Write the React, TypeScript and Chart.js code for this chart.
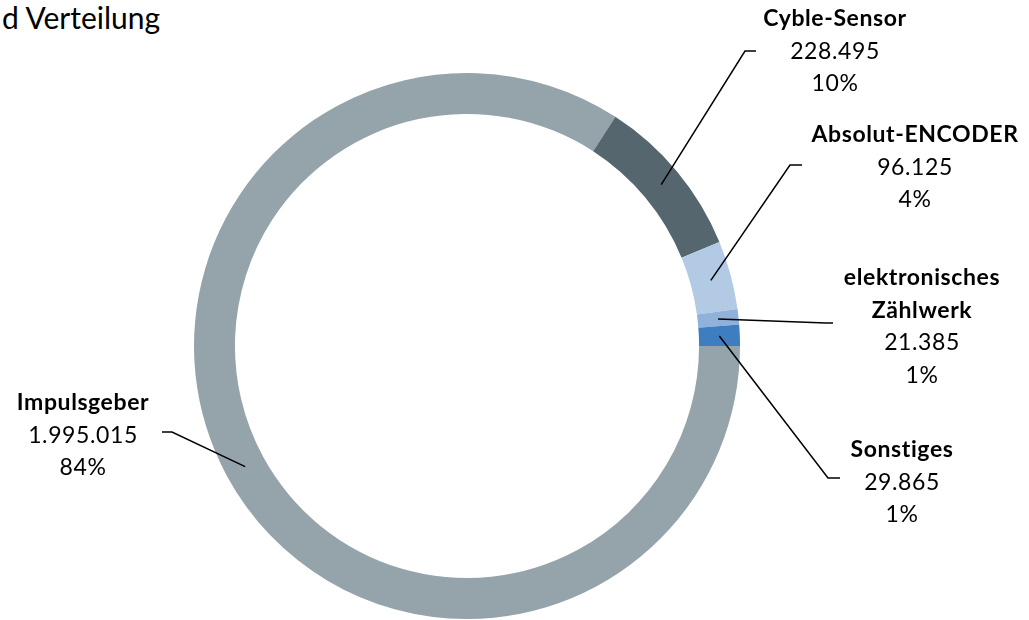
import React, { useEffect, useRef } from "react";
import { Chart, registerables } from "chart.js";

Chart.register(...registerables);

// ---- data ----
const categories = ["Impulsgeber", "Cyble-Sensor", "Absolut-ENCODER", "elektronisches Zählwerk", "Sonstiges"];
const nameLines = [["Impulsgeber"], ["Cyble-Sensor"], ["Absolut-ENCODER"], ["elektronisches", "Zählwerk"], ["Sonstiges"]];
const values = [1995015, 228495, 96125, 21385, 29865];
const colors = ["#95A3AB", "#56666F", "#B3CAE5", "#8FB1DA", "#3F7DC1"];
const titleText = "d Verteilung";

// ---- label layout (annotation positions) ----
const labelLayout = [
  { cx: 83, firstY: 403, elbow: [172, 432], end: [162, 432] },
  { cx: 835, firstY: 19, elbow: [745, 51], end: [756, 51] },
  { cx: 915, firstY: 135, elbow: [790, 165], end: [802, 165] },
  { cx: 922, firstY: 278, elbow: [826, 323], end: [833, 323] },
  { cx: 902, firstY: 450, elbow: [828, 478], end: [840, 478] },
];

const FONT = "Lato, 'Open Sans', sans-serif";
const LINE_H = 32.5;

function fmt(v: number): string {
  return String(v).replace(/\B(?=(\d{3})+(?!\d))/g, ".");
}

const labelPlugin = {
  id: "leaderLabels",
  afterDraw(chart: any) {
    const ctx = chart.ctx;
    const meta = chart.getDatasetMeta(0);
    const total = values.reduce((a, b) => a + b, 0);
    ctx.save();
    meta.data.forEach((arc: any, i: number) => {
      const p = arc.getProps(["x", "y", "startAngle", "endAngle", "innerRadius", "outerRadius"], true);
      const mid = (p.startAngle + p.endAngle) / 2;
      const r = (p.innerRadius + p.outerRadius) / 2;
      const sx = p.x + Math.cos(mid) * r;
      const sy = p.y + Math.sin(mid) * r;
      const L = labelLayout[i];
      ctx.beginPath();
      ctx.moveTo(sx, sy);
      ctx.lineTo(L.elbow[0], L.elbow[1]);
      ctx.lineTo(L.end[0], L.end[1]);
      ctx.lineWidth = 1.5;
      ctx.strokeStyle = "#000";
      ctx.stroke();

      ctx.fillStyle = "#000";
      ctx.textAlign = "center";
      ctx.textBaseline = "middle";
      (ctx as any).letterSpacing = "0.6px";
      let y = L.firstY;
      ctx.font = `bold 23px ${FONT}`;
      nameLines[i].forEach((t) => {
        ctx.fillText(t, L.cx, y);
        y += LINE_H;
      });
      ctx.font = `23px ${FONT}`;
      ctx.fillText(fmt(values[i]), L.cx, y);
      y += LINE_H;
      ctx.fillText(Math.round((values[i] / total) * 100) + "%", L.cx, y);
    });
    ctx.restore();
  },
};

export default function App() {
  const ref = useRef<HTMLCanvasElement | null>(null);
  useEffect(() => {
    if (!ref.current) return;
    const chart = new Chart(ref.current, {
      type: "doughnut",
      data: {
        labels: categories,
        datasets: [
          {
            data: values,
            backgroundColor: colors,
            borderWidth: 0,
          },
        ],
      },
      options: {
        responsive: false,
        animation: false,
        devicePixelRatio: 1,
        rotation: 90,
        cutout: "85%",
        layout: { padding: { top: 73, bottom: 1, left: 194, right: 289 } },
        plugins: {
          legend: { display: false },
          tooltip: { enabled: false },
          title: { display: false },
        },
      },
      plugins: [labelPlugin],
    });
    return () => chart.destroy();
  }, []);

  return (
    <div style={{ position: "fixed", left: 0, top: 0, width: 1029, height: 620, background: "#fff", overflow: "hidden" }}>
      <div
        style={{
          position: "absolute",
          left: 2,
          top: -3,
          fontFamily: FONT,
          fontSize: 30,
          color: "#000",
          whiteSpace: "nowrap",
          lineHeight: "40px",
        }}
      >
        {titleText}
      </div>
      <canvas ref={ref} width={1029} height={620} style={{ position: "absolute", left: 0, top: 0, width: 1029, height: 620 }} />
    </div>
  );
}
